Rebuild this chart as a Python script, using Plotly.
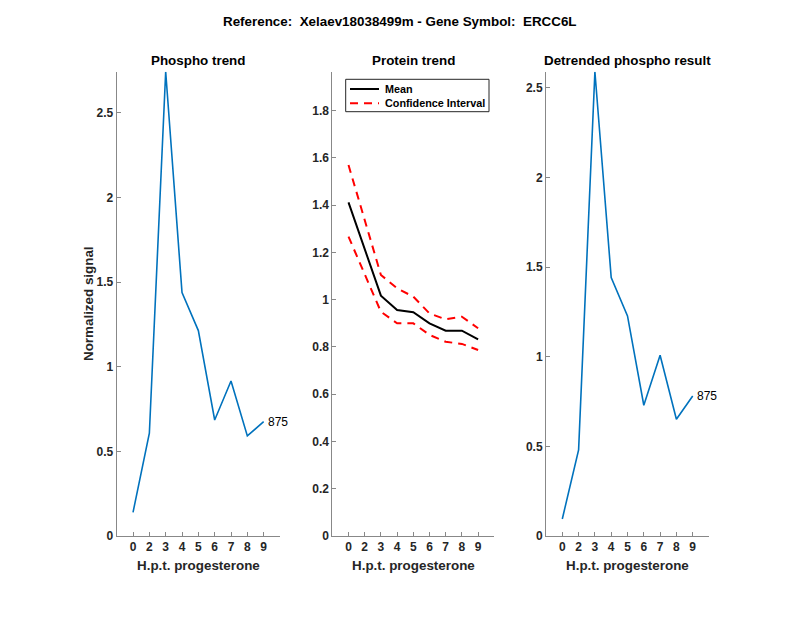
import plotly.graph_objects as go

# ---- data ----
categories = ["0", "2", "3", "4", "5", "6", "7", "8", "9"]
positions = [1, 2, 3, 4, 5, 6, 7, 8, 9]
phospho = [0.14, 0.607, 2.742, 1.437, 1.213, 0.685, 0.915, 0.591, 0.675]
protein_mean = [1.412, 1.215, 1.017, 0.956, 0.947, 0.900, 0.869, 0.869, 0.832]
protein_upper = [1.570, 1.337, 1.105, 1.048, 1.013, 0.942, 0.917, 0.928, 0.879]
protein_lower = [1.267, 1.110, 0.949, 0.900, 0.900, 0.851, 0.822, 0.813, 0.787]
detrended = [0.095, 0.48, 2.589, 1.441, 1.227, 0.729, 1.008, 0.651, 0.781]
peptide_label = "875"
legend_labels = ["Mean", "Confidence Interval"]
protein_ymax = 1.965

FONT = "Liberation Sans"
AX = "#262626"
BLUE = "#0072BD"
DASH = "8px,6px"

W, H = 800, 618
H_EFF = 611  # visible plot height in the viewer
def px_x(p): return p / W
def px_y(p): return (H_EFF - p) / H_EFF

fig = go.Figure()

# Panel 1
fig.add_trace(go.Scatter(x=positions, y=phospho, mode="lines",
                         line=dict(color=BLUE, width=1.6),
                         showlegend=False, xaxis="x", yaxis="y"))
# Panel 2
fig.add_trace(go.Scatter(x=positions, y=protein_mean, mode="lines", name=legend_labels[0],
                         line=dict(color="black", width=2), showlegend=False,
                         xaxis="x2", yaxis="y2"))
fig.add_trace(go.Scatter(x=positions, y=protein_upper, mode="lines",
                         name=legend_labels[1], showlegend=False,
                         line=dict(color="red", width=2, dash=DASH),
                         xaxis="x2", yaxis="y2"))
fig.add_trace(go.Scatter(x=positions, y=protein_lower, mode="lines",
                         name=legend_labels[1], showlegend=False,
                         line=dict(color="red", width=2, dash=DASH),
                         xaxis="x2", yaxis="y2"))
# Panel 3
fig.add_trace(go.Scatter(x=positions, y=detrended, mode="lines",
                         line=dict(color=BLUE, width=1.6),
                         showlegend=False, xaxis="x3", yaxis="y3"))

ydom = [px_y(536), px_y(71.7)]
xdoms = [[px_x(116.7), px_x(280)], [px_x(332.3), px_x(494.3)], [px_x(546), px_x(709)]]

tickfont = dict(family=FONT, size=12, color=AX, weight="bold")

def xaxis(dom, anchor):
    return dict(domain=dom, anchor=anchor, range=[0, 10],
                tickmode="array", tickvals=positions, ticktext=categories,
                ticks="inside", ticklen=4, tickcolor="#888", tickwidth=1,
                showline=True, linecolor="#888", linewidth=1,
                showgrid=False, zeroline=False, tickfont=tickfont)

def yaxis(rng, dtick, anchor):
    return dict(domain=ydom, anchor=anchor, range=rng, dtick=dtick, tick0=0,
                ticks="inside", ticklen=4, tickcolor="#888", tickwidth=1,
                showline=True, linecolor="#888", linewidth=1,
                showgrid=False, zeroline=False, tickfont=tickfont)

fig.update_layout(
    width=W, height=H, autosize=False,
    margin=dict(l=0, r=0, t=0, b=0),
    paper_bgcolor="white", plot_bgcolor="white",
    xaxis=xaxis(xdoms[0], "y"),
    yaxis=yaxis([0, max(phospho)], 0.5, "x"),
    xaxis2=xaxis(xdoms[1], "y2"),
    yaxis2=yaxis([0, protein_ymax], 0.2, "x2"),
    xaxis3=xaxis(xdoms[2], "y3"),
    yaxis3=yaxis([0, max(detrended)], 0.5, "x3"),
    showlegend=False,
)

annos = []
FS = 13.4
title_font = dict(family=FONT, size=FS, color="black", weight="bold")
annos.append(dict(text="Reference:  Xelaev18038499m - Gene Symbol:  ERCC6L",
                  x=0.5, y=px_y(22), xref="paper", yref="paper",
                  xanchor="center", yanchor="middle",
                  showarrow=False, font=title_font))
for dom, t in zip(xdoms, ["Phospho trend", "Protein trend", "Detrended phospho result"]):
    annos.append(dict(text=t, x=(dom[0] + dom[1]) / 2, y=px_y(61), xref="paper", yref="paper",
                      xanchor="center", yanchor="middle",
                      showarrow=False, font=title_font))
    annos.append(dict(text="H.p.t. progesterone", x=(dom[0] + dom[1]) / 2, y=px_y(565),
                      xref="paper", yref="paper", showarrow=False,
                      xanchor="center", yanchor="middle",
                      font=dict(family=FONT, size=FS, color=AX, weight="bold")))
annos.append(dict(text="Normalized signal", x=px_x(88), y=px_y(304), xref="paper", yref="paper",
                  textangle=-90, showarrow=False, xanchor="center", yanchor="middle",
                  font=dict(family=FONT, size=FS, color=AX, weight="bold")))
annos.append(dict(text=peptide_label, x=positions[-1], y=phospho[-1], xref="x", yref="y",
                  xanchor="left", yanchor="middle", xshift=2, showarrow=False,
                  font=dict(family=FONT, size=12, color="black")))
annos.append(dict(text=peptide_label, x=positions[-1], y=detrended[-1], xref="x3", yref="y3",
                  xanchor="left", yanchor="middle", xshift=2, showarrow=False,
                  font=dict(family=FONT, size=12, color="black")))

# Legend box drawn in panel 2 (MATLAB style)
legend_font = dict(family=FONT, size=10.8, color="black", weight="bold")
shapes = [
    dict(type="rect", xref="paper", yref="paper",
         x0=px_x(345.7), x1=px_x(489), y0=px_y(111.7), y1=px_y(79.3),
         line=dict(color=AX, width=1), fillcolor="white", layer="above"),
    dict(type="line", xref="paper", yref="paper",
         x0=px_x(350), x1=px_x(379), y0=px_y(89), y1=px_y(89),
         line=dict(color="black", width=2)),
    dict(type="line", xref="paper", yref="paper",
         x0=px_x(350), x1=px_x(379), y0=px_y(103.3), y1=px_y(103.3),
         line=dict(color="red", width=2, dash=DASH)),
]
for lab, yy in zip(legend_labels, [89, 103.3]):
    annos.append(dict(text=lab, x=px_x(383), y=px_y(yy), xref="paper", yref="paper",
                      xanchor="left", yanchor="middle", showarrow=False, font=legend_font))

fig.update_layout(annotations=annos, shapes=shapes)

fig.write_html("out.html", config={"displayModeBar": False, "responsive": False},
               post_script="document.body.style.margin='0px';")
